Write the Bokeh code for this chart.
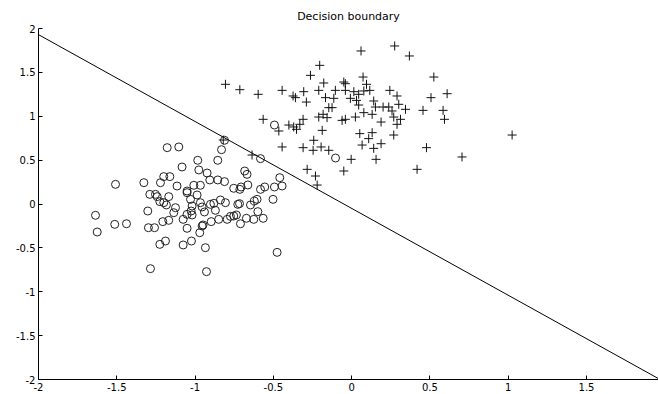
from bokeh.plotting import figure
from bokeh.models import FixedTicker, Range1d
from bokeh.embed import file_html
from bokeh.resources import INLINE

# Class 1 (circles)
circle_x = [-1.178, -1.104, -0.812, -0.831, -1.083, -0.983, -0.855, -0.582, -0.976, -0.923,
            -0.683, -0.668, -0.459, -1.508, -1.327, -1.221, -1.200, -1.161, -1.115, -1.051,
            -1.008, -0.966, -0.906, -0.855, -0.812, -0.753, -0.714, -0.706, -0.663, -0.582,
            -0.555, -0.493, -0.444, -1.289, -1.253, -1.242, -1.225, -1.200, -1.168, -1.183,
            -1.125, -1.051, -1.029, -0.987, -1.019, -0.966, -0.955, -0.902, -0.880, -0.838,
            -0.870, -0.940, -0.806, -0.727, -0.716, -0.646, -0.621, -0.604, -0.502, -1.302,
            -1.636, -1.625, -1.513, -1.438, -1.298, -1.259, -1.206, -1.168, -1.136, -1.076,
            -1.051, -1.025, -1.019, -1.051, -0.970, -0.955, -0.949, -0.897, -0.849, -0.795,
            -0.774, -0.753, -0.736, -0.710, -0.672, -0.625, -0.599, -0.565, -1.225, -1.189,
            -1.076, -1.023, -0.934, -0.476, -1.285, -0.927, -0.103, -0.493]
circle_y = [0.642, 0.650, 0.726, 0.619, 0.422, 0.498, 0.498, 0.517, 0.388, 0.353,
            0.376, 0.338, 0.300, 0.224, 0.243, 0.243, 0.312, 0.312, 0.205, 0.148,
            0.213, 0.213, 0.274, 0.274, 0.255, 0.179, 0.167, 0.194, 0.217, 0.167,
            0.194, 0.194, 0.205, 0.110, 0.110, 0.084, 0.027, 0.015, 0.084, -0.011,
            -0.042, 0.129, 0.053, 0.103, -0.023, 0.015, -0.034, -0.004, 0.008, 0.046,
            -0.072, -0.091, 0.015, -0.004, 0.004, -0.011, 0.034, 0.053, 0.053, -0.080,
            -0.129, -0.319, -0.232, -0.225, -0.270, -0.270, -0.201, -0.186, -0.099, -0.175,
            -0.118, -0.080, -0.125, -0.277, -0.327, -0.251, -0.239, -0.201, -0.175, -0.175,
            -0.141, -0.137, -0.125, -0.225, -0.163, -0.175, -0.087, -0.163, -0.460, -0.422,
            -0.467, -0.422, -0.498, -0.551, -0.737, -0.771, 0.524, 0.900]

# Class 2 (plus signs)
plus_x = [-0.806, -0.714, -0.597, -0.444, -0.374, -0.359, -0.306, -0.289, -0.263, -0.204,
          -0.178, -0.210, -0.167, -0.146, -0.565, -0.401, -0.370, -0.352, -0.331, -0.310,
          -0.465, -0.188, -0.210, -0.182, -0.157, -0.242, -0.444, -0.310, -0.246, -0.195,
          -0.146, -0.636, -0.284, -0.231, -0.220, -0.820,
          0.060, 0.275, 0.369, 0.073, 0.525, -0.050, -0.040, 0.095, 0.610, 0.507,
          -0.104, -0.040, 0.014, 0.078, 0.116, 0.244, 0.290, 0.045, -0.008, 0.031,
          -0.114, 0.141, 0.045, -0.125, 0.152, 0.201, 0.237, 0.301, 0.344, 0.456,
          0.584, 0.593, 0.258, 0.078, 0.131, 0.024, -0.061, -0.040, 0.188, 0.269,
          0.312, 0.290, 0.052, 0.131, 0.109, 0.067, 0.141, 0.188, 0.269, 0.478,
          0.705, 1.025, -0.003, 0.156, -0.050, 0.418]
plus_y = [1.364, 1.303, 1.250, 1.295, 1.231, 1.212, 1.280, 1.162, 1.466, 1.580,
          1.379, 1.295, 1.212, 1.098, 0.965, 0.900, 0.878, 0.851, 0.908, 0.965,
          0.832, 0.839, 0.991, 1.022, 0.984, 0.726, 0.650, 0.642, 0.612, 0.650,
          0.612, 0.558, 0.395, 0.319, 0.216, 0.729,
          1.744, 1.801, 1.687, 1.447, 1.447, 1.390, 1.371, 1.364, 1.257, 1.212,
          1.295, 1.295, 1.280, 1.288, 1.295, 1.295, 1.231, 1.250, 1.204, 1.181,
          1.204, 1.174, 1.128, 1.098, 1.105, 1.105, 1.105, 1.136, 1.079, 1.067,
          1.067, 0.965, 1.060, 1.041, 1.022, 0.991, 0.953, 0.965, 0.934, 0.991,
          0.965, 0.908, 0.802, 0.813, 0.745, 0.672, 0.634, 0.687, 0.786, 0.642,
          0.536, 0.786, 0.509, 0.509, 0.376, 0.395]

# Decision boundary line end points
boundary_x = [-2.0, 1.97]
boundary_y = [1.93, -2.0]

x_ticks = [-2, -1.5, -1, -0.5, 0, 0.5, 1, 1.5]
x_tick_labels = ["-2", "-1.5", "-1", "-0.5", "0", "0.5", "1", "1.5"]
y_ticks = [-2, -1.5, -1, -0.5, 0, 0.5, 1, 1.5, 2]
y_tick_labels = ["-2", "-1.5", "-1", "-0.5", "0", "0.5", "1", "1.5", "2"]

FONT = "DejaVu Sans"

p = figure(width=658, height=394, output_backend="svg", toolbar_location=None,
           x_range=Range1d(-2, 1.96), y_range=Range1d(-2, 2),
           title="Decision boundary",
           min_border_left=38, min_border_right=0, min_border_top=28, min_border_bottom=15)

p.title.align = "center"
p.title.text_font = FONT
p.title.text_font_size = "11px"
p.title.text_font_style = "normal"
p.title.text_color = "black"
p.title.standoff = 11

p.outline_line_color = None
p.xgrid.visible = False
p.ygrid.visible = False

for ax, ticks, labels in ((p.xaxis[0], x_ticks, x_tick_labels), (p.yaxis[0], y_ticks, y_tick_labels)):
    ax.ticker = FixedTicker(ticks=ticks)
    ax.major_label_overrides = {t: l for t, l in zip(ticks, labels)}
    ax.major_tick_in = 4
    ax.major_tick_out = 0
    ax.minor_tick_line_color = None
    ax.axis_line_color = "black"
    ax.major_tick_line_color = "black"
    ax.major_label_text_font = FONT
    ax.major_label_text_font_size = "10px"
    ax.major_label_text_color = "black"
    ax.major_label_standoff = 3

p.line(boundary_x, boundary_y, line_color="black", line_width=1)
p.scatter(circle_x, circle_y, marker="circle", size=8, fill_color=None,
          line_color="#222222", line_width=1)
p.scatter(plus_x, plus_y, marker="cross", size=9, line_color="#111111", line_width=1)

open("out.html", "w").write(file_html(p, INLINE))
